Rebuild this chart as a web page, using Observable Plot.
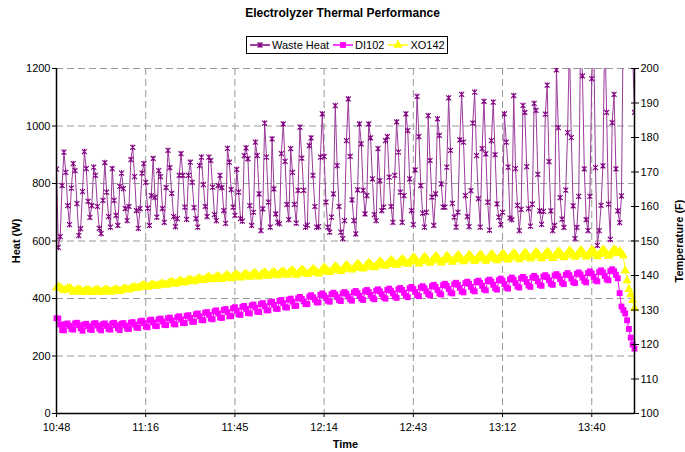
<!DOCTYPE html>
<html><head><meta charset="utf-8">
<script src="https://cdn.jsdelivr.net/npm/d3@7"></script>
<script src="https://cdn.jsdelivr.net/npm/@observablehq/plot@0.6"></script>
<style>
body{margin:0;background:#fff;font-family:"Liberation Sans",Arial,sans-serif;}
#wrap{position:relative;width:685px;height:452px;}
#head{position:relative;width:685px;height:60px;}
#title{position:absolute;left:0;width:685px;top:6px;text-align:center;font-weight:bold;font-size:12px;line-height:14px;}
#legend{position:absolute;left:246px;top:36px;width:202px;height:18px;border:1px solid #000;box-sizing:border-box;display:flex;align-items:center;font-size:11px;padding-left:3px;}
.item{display:flex;align-items:center;margin-right:4px;white-space:nowrap}
.item svg{margin-right:2px}
#chart svg{display:block}
</style></head>
<body><div id="wrap"><div id="head"><div id="title">Electrolyzer Thermal Performance</div><div id="legend"></div></div><div id="chart"></div></div>
<script>
// ---- data ----
const sampleMinutes = 0.6; // minutes between samples, starting 10:48
const seriesNames = ["Waste Heat", "DI102", "XO142"];
const seriesColors = ["#800080", "#ff00ff", "#ffff00"];
const timeTicks = [0, 28.8, 57.6, 86.4, 115.2, 144, 172.8];
const timeLabels = ["10:48", "11:16", "11:45", "12:14", "12:43", "13:12", "13:40"];
const heatTicks = [0, 200, 400, 600, 800, 1000, 1200];
const tempTicks = [100, 110, 120, 130, 140, 150, 160, 170, 180, 190, 200];
const xMax = 186.6;

const wasteHeat = [
850, 578, 615, 793, 909, 839, 723, 657, 784, 869, 845, 730, 619, 643, 772, 911, 852, 738, 682, 723,
857, 828, 720, 644, 626, 741, 873, 770, 685, 648, 852, 741, 689, 654, 790, 836, 782, 713, 671, 720,
883, 926, 824, 706, 644, 713, 836, 869, 804, 714, 654, 758, 887, 752, 683, 845, 824, 713, 665, 786, 915,
855, 766, 685, 650, 678, 828, 904, 828, 718, 675, 828, 874, 804, 716, 678, 648, 862, 892, 796, 720,
685, 892, 880, 787, 692, 671, 793, 828, 786, 706, 661, 922, 874, 779, 718, 689, 849, 770, 678, 669,
897, 924, 886, 723, 654, 700, 944, 897, 764, 636, 712, 1010, 892, 735, 648, 955, 781, 694, 665, 660, 904, 1007,
877, 727, 674, 921, 839, 727, 662, 776, 996, 888, 776, 648, 655, 932, 959, 828, 720, 648, 650, 892,
1042, 894, 735, 648, 631, 683, 764, 1071, 862, 720, 631, 608, 671, 949, 1094, 894, 743, 671, 625, 778,
1007, 938, 776, 694, 758, 1007, 959, 816, 692, 671, 921, 810, 706, 718, 949, 963, 822, 720, 665, 828, 1014,
909, 770, 665, 758, 1042, 984, 816, 706, 657, 847, 1103, 963, 793, 697, 648, 700, 1036, 880, 753, 654,
764, 1025, 967, 799, 718, 718, 857, 1098, 915, 731, 683, 648, 700, 952, 1110, 944, 758, 685, 650, 775,
1010, 1118, 897, 747, 648, 921, 1086, 903, 735, 638, 949, 1083, 900, 729, 683, 657, 700, 1042, 944, 857, 680, 674, 1106,
852, 724, 636, 710, 1072, 1047, 859, 713, 652, 728, 1079, 1054, 832, 705, 658, 703, 1041, 1142, 876, 705,
636, 654, 1195, 994, 751, 676, 647, 777, 977, 1290, 960, 722, 608, 647, 755, 1310, 1174, 851, 674, 636,
755, 1165, 1320, 855, 585, 636, 724, 861, 1350, 1047, 728, 606, 1012, 1110, 851, 705, 664, 757, 1400, 1500,
1600, 1450, 1350, 1250, 1047
];

const di102 = [
127.6, 127.5, 125.8, 124.2,
124.1, 125.9, 126.1, 125.4, 124.5, 124.3, 126.1, 126.3, 125.6, 124.7,
124.0, 125.8, 126.0, 125.3, 124.4, 124.2, 126.0, 126.2, 125.5, 124.6,
124.1, 125.9, 126.1, 125.4, 124.5, 124.3, 126.1, 126.3, 125.6, 124.7,
124.2, 126.0, 126.2, 125.5, 124.6, 124.5, 126.3, 126.5, 125.8, 124.9,
124.8, 126.7, 126.9, 126.2, 125.2, 125.0, 127.0, 127.2, 126.4, 125.4,
125.3, 127.3, 127.5, 126.7, 125.7, 125.6, 127.6, 127.8, 127.0, 126.0,
125.8, 127.9, 128.2, 127.3, 126.2, 126.2, 128.3, 128.5, 127.7, 126.6,
126.6, 128.8, 129.0, 128.2, 127.1, 127.0, 129.2, 129.4, 128.6, 127.5,
127.3, 129.6, 129.9, 129.0, 127.8, 127.7, 130.0, 130.3, 129.4, 128.2,
128.2, 130.5, 130.8, 129.8, 128.7, 128.6, 130.9, 131.2, 130.3, 129.1,
129.0, 131.3, 131.6, 130.7, 129.5, 129.4, 131.7, 132.0, 131.1, 129.9,
129.9, 132.2, 132.4, 131.5, 130.4, 130.3, 132.6, 132.9, 132.0, 130.8,
130.7, 133.0, 133.3, 132.4, 131.2,
131.2, 133.4, 133.8, 133.2, 132.5, 131.7, 131.7, 133.9, 134.3, 133.7, 133.0, 132.2,
132.2, 134.4, 134.8, 134.2, 133.5, 132.7, 132.4, 134.6, 135.0, 134.5, 133.7, 132.9,
132.6, 134.8, 135.2, 134.7, 133.9, 133.1, 132.7, 135.1, 135.5, 134.9, 134.1, 133.3,
132.9, 135.4, 135.8, 135.2, 134.4, 133.5, 133.1, 135.6, 136.0, 135.4, 134.6, 133.7,
133.3, 135.8, 136.2, 135.6, 134.8, 133.9, 133.5, 136.0, 136.4, 135.8, 135.0, 134.1,
133.7, 136.3, 136.7, 136.1, 135.2, 134.3, 134.0, 136.5, 136.9, 136.3, 135.4, 134.6,
134.2, 136.9, 137.3, 136.7, 135.8, 134.8, 134.5, 137.2, 137.6, 137.0, 136.1, 135.1,
134.8, 137.5, 137.9, 137.3, 136.4, 135.4, 135.1, 137.8, 138.2, 137.6, 136.7, 135.7,
135.4, 138.1, 138.5, 137.9, 137.0, 136.0, 135.7, 138.4, 138.8, 138.2, 137.3, 136.3,
135.9, 138.6, 139.1, 138.5, 137.5, 136.5, 136.2, 138.9, 139.4, 138.8, 137.8, 136.8,
136.5, 139.2, 139.6, 139.0, 138.1, 137.1, 136.7, 139.4, 139.9, 139.3, 138.3, 137.3,
137.0, 139.7, 140.1, 139.5, 138.6, 137.6, 137.3, 140.0, 140.4, 139.8, 138.9, 137.9,
137.5, 140.2, 140.7, 140.1, 139.1, 138.1, 137.8, 140.5, 140.9, 140.3, 139.4, 138.4,
138.0, 140.7, 141.2, 140.6, 139.6, 138.6, 138.3, 141.0, 141.5, 140.9, 139.9, 138.9,
138.6, 141.3, 141.8, 141.2, 140.2, 139.2,
134.9, 131.0, 130.0, 129.0, 127.0, 124.5, 122.0, 120.0, 118.8
];

const xo142 = [
136.4, 136.7, 136.5, 136.1,
135.6, 135.9, 136.2, 136.4, 136.1, 135.2, 135.5, 135.8, 136.0, 135.7,
135.1, 135.4, 135.7, 135.9, 135.6, 135.1, 135.4, 135.7, 135.9, 135.6,
135.1, 135.4, 135.7, 135.9, 135.6, 135.2, 135.5, 135.8, 136.0, 135.7,
135.4, 135.7, 136.0, 136.2, 135.9, 135.9, 136.2, 136.5, 136.7, 136.4,
136.4, 136.7, 137.0, 137.2, 136.9, 136.6, 136.9, 137.2, 137.4, 137.1,
136.9, 137.2, 137.5, 137.7, 137.4, 137.2, 137.6, 138.0, 138.2, 137.8,
137.5, 137.9, 138.3, 138.5, 138.1, 137.9, 138.3, 138.7, 138.9, 138.5,
138.2, 138.6, 139.0, 139.2, 138.8, 138.6, 139.0, 139.4, 139.6, 139.2,
138.8, 139.2, 139.6, 139.8, 139.4, 138.9, 139.4, 139.9, 140.1, 139.6,
139.1, 139.6, 140.1, 140.3, 139.8, 139.3, 139.8, 140.3, 140.5, 140.0,
139.5, 140.0, 140.5, 140.7, 140.2, 139.6, 140.1, 140.6, 140.9, 140.4,
139.8, 140.3, 140.8, 141.0, 140.5, 140.0, 140.5, 141.0, 141.2, 140.7,
140.1, 140.7, 141.2, 141.5, 140.9,
140.1, 140.6, 141.1, 141.7, 141.4, 140.7, 140.3, 140.8, 141.3, 141.9, 141.6, 140.9,
140.5, 141.0, 141.7, 142.3, 141.9, 141.2, 140.9, 141.4, 142.0, 142.7, 142.3, 141.6,
141.2, 141.7, 142.4, 143.0, 142.6, 141.9, 141.6, 142.1, 142.7, 143.4, 143.0, 142.3,
141.9, 142.4, 143.1, 143.7, 143.3, 142.6, 142.3, 142.8, 143.4, 144.1, 143.7, 143.0,
142.7, 143.2, 143.8, 144.5, 144.1, 143.4, 143.0, 143.5, 144.2, 144.8, 144.4, 143.7,
143.3, 143.9, 144.6, 145.3, 144.9, 144.1, 143.4, 144.0, 144.7, 145.4, 145.0, 144.2,
143.6, 144.2, 144.9, 145.6, 145.2, 144.4, 143.7, 144.3, 145.0, 145.7, 145.3, 144.5,
143.9, 144.5, 145.2, 145.9, 145.5, 144.7, 144.0, 144.6, 145.3, 146.0, 145.6, 144.8,
144.1, 144.7, 145.4, 146.1, 145.7, 144.9, 144.2, 144.8, 145.5, 146.2, 145.8, 145.0,
144.3, 144.9, 145.6, 146.3, 145.9, 145.1, 144.5, 145.1, 145.8, 146.5, 146.1, 145.3,
144.6, 145.2, 145.9, 146.6, 146.2, 145.4, 144.8, 145.4, 146.1, 146.8, 146.4, 145.6,
144.9, 145.5, 146.2, 146.9, 146.5, 145.7, 145.0, 145.6, 146.3, 147.0, 146.6, 145.8,
145.2, 145.8, 146.5, 147.2, 146.8, 146.0, 145.3, 145.9, 146.6, 147.3, 146.9, 146.1,
145.4, 146.0, 146.7, 147.4, 147.0, 146.2, 145.5, 146.1, 146.8, 147.5, 147.1, 146.3,
145.6, 146.2, 146.9, 147.6, 147.2, 146.4,
147.0, 146.4, 145.8, 141.4, 138.5, 136.0, 134.5, 132.8, 130.5
];

// ---- build ----
const tempToHeat = T => (T - 100) * 12; // right axis 100..200 maps onto left 0..1200
const heatRows = wasteHeat.map((v, i) => ({t: i * sampleMinutes, v}));
const diRows = di102.map((v, i) => ({t: i * sampleMinutes, v: tempToHeat(v)}));
const xoRows = xo142.map((v, i) => ({t: i * sampleMinutes, v: tempToHeat(v)}));

const symbolStar = {
  draw(ctx, size) {
    const w = Math.sqrt(size) / 2;
    ctx.moveTo(-w, -w); ctx.lineTo(w, w);
    ctx.moveTo(-w, w); ctx.lineTo(w, -w);
    ctx.moveTo(0, -w * 1.15); ctx.lineTo(0, w * 1.15);
  }
};
const symbols = [symbolStar, d3.symbolSquare, d3.symbolTriangle];
const radii = [2.8, 3.3, 3.4];

const grid = {stroke: "#999", strokeOpacity: 1, strokeWidth: 1, strokeDasharray: "7,4"};
const chart = Plot.plot({
  width: 685, height: 392,
  marginTop: 8, marginBottom: 39, marginLeft: 56, marginRight: 51,
  style: {fontFamily: '"Liberation Sans", Arial, sans-serif', fontSize: "11px", background: "white", color: "black", overflow: "visible"},
  x: {domain: [0, xMax]},
  y: {domain: [0, 1200]},
  marks: [
    Plot.gridY(heatTicks.slice(1), grid),
    Plot.gridX(timeTicks.slice(1), grid),
    Plot.line(heatRows, {x: "t", y: "v", stroke: "#9a3a9a", strokeWidth: 1, clip: true}),
    Plot.dot(heatRows, {x: "t", y: "v", symbol: symbols[0], r: radii[0], stroke: seriesColors[0], strokeWidth: 1.1, fill: "none", clip: true}),
    Plot.line(diRows, {x: "t", y: "v", stroke: seriesColors[1], strokeWidth: 1}),
    Plot.dot(diRows, {x: "t", y: "v", symbol: "square", r: radii[1], fill: seriesColors[1], stroke: "none"}),
    Plot.line(xoRows, {x: "t", y: "v", stroke: seriesColors[2], strokeWidth: 1}),
    Plot.dot(xoRows, {x: "t", y: "v", symbol: "triangle", r: radii[2], fill: seriesColors[2], stroke: "none"}),
    Plot.ruleX([0, xMax], {stroke: "black", strokeWidth: 1.5}),
    Plot.ruleY([0], {stroke: "black", strokeWidth: 1.5}),
    Plot.axisY(heatTicks, {anchor: "left", tickSize: 4, tickPadding: 2, tickFormat: d => String(d), label: "Heat (W)", labelAnchor: "center", labelArrow: "none", labelOffset: 44}),
    Plot.axisY(tempTicks.map(tempToHeat), {anchor: "right", tickSize: 4, tickPadding: 2, tickFormat: d => String(Math.round(d / 12 + 100)), label: "Temperature (F)", labelAnchor: "center", labelArrow: "none", labelOffset: 48}),
    Plot.axisY(tempTicks.map(tempToHeat), {anchor: "right", tickSize: -4, tickFormat: () => "", label: null}),
    Plot.axisX(timeTicks, {anchor: "bottom", tickSize: 4, tickPadding: 6, tickFormat: d => timeLabels[timeTicks.indexOf(d)], label: "Time", labelAnchor: "center", labelArrow: "none", labelOffset: 34})
  ]
});
chart.querySelectorAll('[aria-label$="axis label"]').forEach(g => g.setAttribute("font-weight", "bold"));
document.getElementById("chart").appendChild(chart);

// ---- legend ----
const legend = d3.select("#legend");
seriesNames.forEach((name, k) => {
  const item = legend.append("div").attr("class", "item");
  const s = item.append("svg").attr("width", 20).attr("height", 10);
  s.append("line").attr("x1", 0).attr("x2", 20).attr("y1", 5).attr("y2", 5).attr("stroke", seriesColors[k]).attr("stroke-width", 1.5);
  const path = d3.symbol().type(symbols[k]).size(Math.PI * radii[k] * radii[k])();
  const p = s.append("path").attr("d", path).attr("transform", "translate(10,5)");
  if (k === 0) p.attr("fill", "none").attr("stroke", seriesColors[k]).attr("stroke-width", 1.2);
  else p.attr("fill", seriesColors[k]);
  item.append("span").text(name);
});
</script>
</body></html>
